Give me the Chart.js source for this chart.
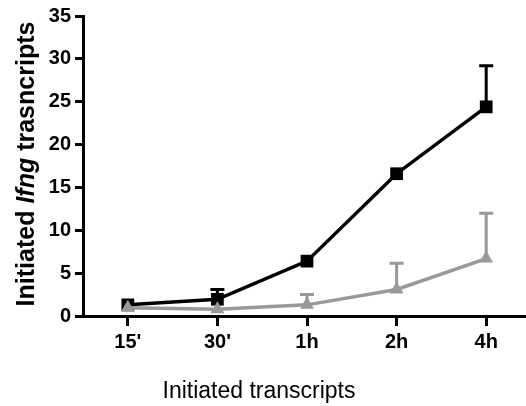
<!DOCTYPE html>
<html>
<head>
<meta charset="utf-8">
<script src="https://cdn.jsdelivr.net/npm/chart.js@4.4.1/dist/chart.umd.min.js"></script>
<style>
  html, body { margin: 0; padding: 0; background: #fff; overflow: hidden; }
  #wrap { position: relative; width: 540px; height: 406px; }
</style>
</head>
<body>
<div id="wrap"><canvas id="chart"></canvas></div>
<script>
/* Ifng transcripts over time — two series with upper error bars */

const timepoints = ["15'", "30'", '1h', '2h', '4h'];

const ifngMean  = [1.3, 1.95, 6.4, 16.6, 24.4];
const ifngUpper = [1.3, 3.1, 6.4, 16.6, 29.2];

const otherMean  = [0.97, 0.8, 1.3, 3.1, 6.7];
const otherUpper = [0.97, 0.8, 2.5, 6.15, 12.0];

const FONT = "'Liberation Sans', Arial, Helvetica, sans-serif";
const GRAY = '#999999';

/* upper-only error bars with a flat cap */
const errorBars = {
  id: 'errorBars',
  beforeDatasetsDraw(chart) {
    const ctx = chart.ctx;
    const y = chart.scales.y;
    chart.data.datasets.forEach((ds, i) => {
      const meta = chart.getDatasetMeta(i);
      ctx.save();
      ctx.strokeStyle = ds.borderColor;
      ctx.lineWidth = 3;
      meta.data.forEach((pt, j) => {
        const top = ds.upper[j];
        if (top <= ds.data[j]) return;
        const yTop = y.getPixelForValue(top);
        ctx.beginPath();
        ctx.moveTo(pt.x, pt.y);
        ctx.lineTo(pt.x, yTop);
        ctx.moveTo(pt.x - 7, yTop);
        ctx.lineTo(pt.x + 7, yTop);
        ctx.stroke();
      });
      ctx.restore();
    });
  }
};

/* axis titles: the y one is bold with the gene name in italics */
const axisTitles = {
  id: 'axisTitles',
  afterDraw(chart) {
    const ctx = chart.ctx;
    const parts = [
      { t: 'Initiated ', f: 'bold 25px ' + FONT },
      { t: 'Ifng', f: 'italic bold 25px ' + FONT },
      { t: ' trasncripts', f: 'bold 25px ' + FONT },
    ];
    let total = 0;
    parts.forEach(p => { ctx.font = p.f; p.w = ctx.measureText(p.t).width; total += p.w; });
    ctx.save();
    ctx.fillStyle = '#000';
    ctx.translate(27, 164);
    ctx.rotate(-Math.PI / 2);
    ctx.textBaseline = 'middle';
    ctx.textAlign = 'left';
    let x = -total / 2;
    parts.forEach(p => { ctx.font = p.f; ctx.fillText(p.t, x, 0); x += p.w; });
    ctx.restore();

    ctx.save();
    ctx.fillStyle = '#000';
    ctx.font = '23px ' + FONT;
    ctx.textAlign = 'center';
    ctx.textBaseline = 'alphabetic';
    ctx.fillText('Initiated transcripts', 259, 398);
    ctx.restore();
  }
};

new Chart(document.getElementById('chart'), {
  type: 'line',
  data: {
    labels: timepoints,
    datasets: [
      {
        label: 'Other',
        data: otherMean,
        upper: otherUpper,
        borderColor: GRAY,
        backgroundColor: GRAY,
        borderWidth: 3.5,
        pointStyle: 'triangle',
        pointRadius: 8,
        pointBorderWidth: 0,
        tension: 0,
      },
      {
        label: 'Ifng',
        data: ifngMean,
        upper: ifngUpper,
        borderColor: '#000',
        backgroundColor: '#000',
        borderWidth: 3.5,
        pointStyle: 'rect',
        pointRadius: 9,
        pointBorderWidth: 0,
        tension: 0,
      },
    ],
  },
  options: {
    responsive: true,
    maintainAspectRatio: false,
    animation: false,
    layout: { padding: { left: 43, right: 9, top: 15, bottom: 0 } },
    plugins: {
      legend: { display: false },
      tooltip: { enabled: false },
    },
    scales: {
      x: {
        offset: true,
        afterFit(scale) { scale.height = 90; },
        grid: { drawOnChartArea: false, tickLength: 10, tickWidth: 3, tickColor: '#000', offset: false },
        border: { width: 3, color: '#000' },
        ticks: { color: '#000', font: { family: FONT, size: 20, weight: 'bold' }, padding: 4, maxRotation: 0 },
      },
      y: {
        min: 0,
        max: 35,
        afterFit(scale) { scale.width = 40; },
        grid: { drawOnChartArea: false, tickLength: 8, tickWidth: 3, tickColor: '#000' },
        border: { width: 3, color: '#000' },
        ticks: { stepSize: 5, color: '#000', font: { family: FONT, size: 20, weight: 'bold' }, padding: 4 },
      },
    },
  },
  plugins: [errorBars, axisTitles],
});
</script>
</body>
</html>
